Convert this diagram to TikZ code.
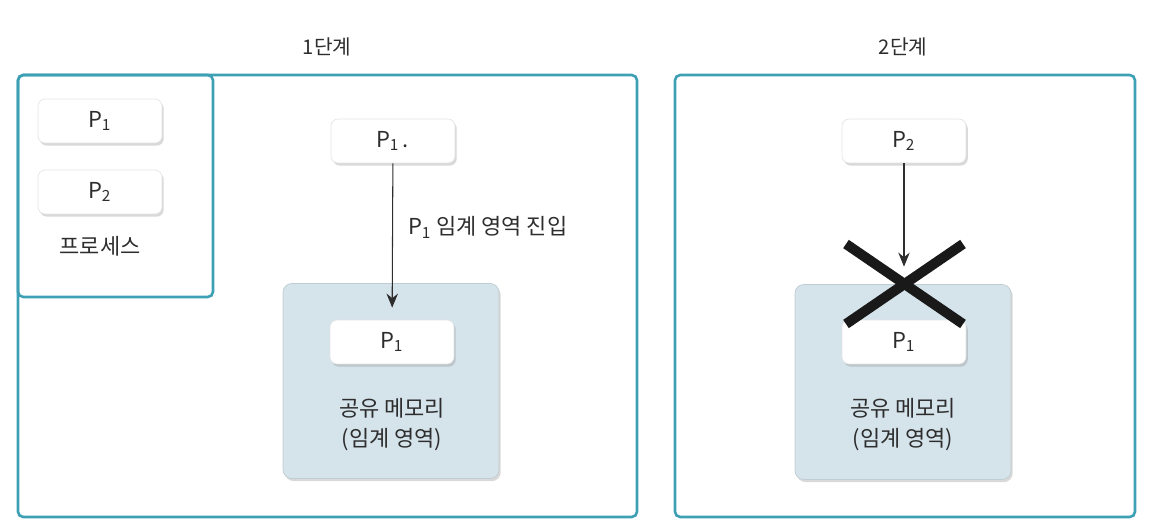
\documentclass[tikz,border=0pt]{standalone}
\usepackage{fontspec}
\setmainfont{Noto Sans CJK KR}
\usetikzlibrary{arrows.meta,shadows}
\definecolor{framecol}{RGB}{62,160,180}
\definecolor{memfill}{RGB}{213,227,235}
\definecolor{txt}{RGB}{45,45,45}
\newcommand{\pr}[1]{P\kern-0.5pt\textsubscript{#1}}

\begin{document}
\begin{tikzpicture}[x=0.02cm,y=-0.02cm,
		every node/.style={text=txt,font=\fontsize{12.5}{17}\selectfont},
		frame/.style={draw=framecol,line width=1.5pt,rounded corners=3pt},
		proc/.style={fill=white,draw=black!10,rounded corners=4pt,
			minimum width=2.48cm,minimum height=0.88cm,
			drop shadow={shadow xshift=1pt,shadow yshift=-1.5pt,opacity=0.3}},
		shmem/.style={fill=memfill,draw=memfill!90!black,rounded corners=5pt,
			minimum width=4.32cm,minimum height=3.9cm,
			drop shadow={shadow xshift=1pt,shadow yshift=-1.5pt,opacity=0.3}},
		arr/.style={-{Stealth[length=8pt,width=6.5pt]},line width=0.6pt,draw=txt}]
		\useasboundingbox (0,0) rectangle (1161,530);
	
		% step 1
		\node[font=\fontsize{11.5}{14}\selectfont] (t1) at (327,47) {1단계};
		\draw[frame] (18,75) rectangle (637,517);
		\draw[frame] (18,75) rectangle (213,297);
		\node[proc] (a1) at (100,121) {\pr{1}};
		\node[proc] (a2) at (100,192) {\pr{2}};
		\node (plist) at (100,246) {프로세스};
	
		\node[proc] (p1top) at (393,141) {\pr{1}\,.};
		\node[shmem] (mem1) at (391,381) {};
		\node[proc] (p1in) at (392,342) {\pr{1}};
		\node[align=center] (m1txt) at (392,425) {공유 메모리\\(임계 영역)};
		\draw[arr,shorten >=0.24cm] (p1top) -- (p1in) 
		node[pos=0.41,anchor=west,xshift=0.2cm] {\pr{1} 임계 영역 진입};
	
		% step 2
		\node[font=\fontsize{11.5}{14}\selectfont] (t2) at (903,47) {2단계};
		\draw[frame] (675,75) rectangle (1135,517);
		\node[proc] (p2top) at (904,141) {\pr{2}};
		\node[shmem] (mem2) at (903,382) {};
		\node[proc] (p1r) at (904,342) {\pr{1}};
		\node[align=center] (m2txt) at (903,425) {공유 메모리\\(임계 영역)};
		\draw[arr,shorten >=1.06cm] (p2top) -- (p1r);
		\coordinate (xa) at (846,244);
		\coordinate (xb) at (963,324);
		\coordinate (xc) at (963,244);
		\coordinate (xd) at (846,324);
		\draw[line width=0.2cm,black!90] (xa) -- (xb) (xc) -- (xd);
	\end{tikzpicture}
\end{document}
